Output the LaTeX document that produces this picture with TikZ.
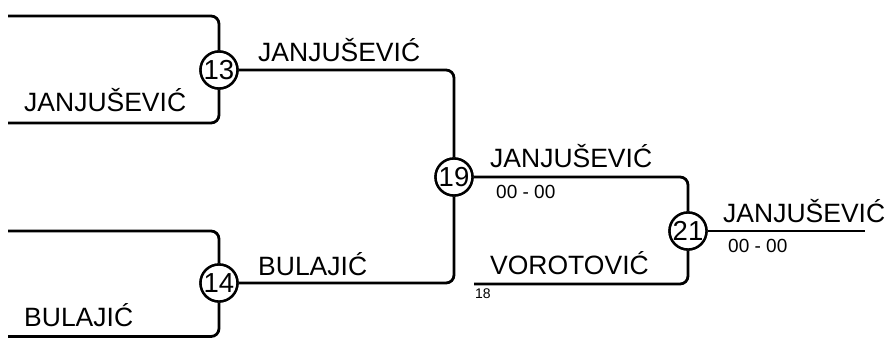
\documentclass[tikz,border=0pt]{standalone}
\usepackage{fontspec}
\setmainfont{Liberation Sans}
\begin{document}
\begin{tikzpicture}[x=1pt,y=-1pt,
  wire/.style={line width=2.8pt,rounded corners=8pt},
  seed/.style={circle,draw,line width=2.4pt,fill=white,minimum size=37pt,inner sep=0pt,font=\fontsize{27.5}{27.5}\selectfont},
  lbl/.style={anchor=base west,inner sep=0pt,font=\fontsize{26.5}{26.5}\selectfont},
  scr/.style={anchor=base west,inner sep=0pt,font=\fontsize{19}{19}\selectfont},
  tiny/.style={anchor=base west,inner sep=0pt,font=\fontsize{14}{14}\selectfont}]
\useasboundingbox (0,0) rectangle (886,338);
\coordinate (a1) at (8,16);
\coordinate (a2) at (8,123);
\coordinate (b1) at (8,231);
\coordinate (b2) at (8,336.5);
\coordinate (v18) at (474,284);
\coordinate (fin) at (865,231);
\node[seed] (c13) at (219,70) {};
\node[seed] (c14) at (219,283) {};
\node[seed] (c19) at (454,177) {};
\node[seed] (c21) at (688,231) {};
\draw[wire] (a1) -| (c13.north);
\draw[wire] (a2) -| (c13.south);
\draw[wire] (b1) -| (c14.north);
\draw[wire] (b2) -| (c14.south);
\draw[wire] (c13.east) -| (c19.north);
\draw[wire] (c14.east) -| (c19.south);
\draw[wire] (c19.east) -| (c21.north);
\draw[wire] (v18) -| (c21.south);
\draw[wire] (c21.east) -- (fin);
\node[seed] at (c13) {13};
\node[seed] at (c14) {14};
\node[seed] at (c19) {19};
\node[seed] at (c21) {21};
\node[lbl] (l1) at (24,111) {JANJUŠEVIĆ};
\node[lbl] (l2) at (24,326) {BULAJIĆ};
\node[lbl] (l3) at (258,61) {JANJUŠEVIĆ};
\node[lbl] (l4) at (258,275) {BULAJIĆ};
\node[lbl] (l5) at (490,167) {JANJUŠEVIĆ};
\node[scr] (s1) at (496,198) {00 - 00};
\node[lbl] (l6) at (490,274) {VOROTOVIĆ};
\node[tiny] (n18) at (475,298) {18};
\node[lbl] (l7) at (723,222) {JANJUŠEVIĆ};
\node[scr] (s2) at (728,252) {00 - 00};
\end{tikzpicture}
\end{document}
